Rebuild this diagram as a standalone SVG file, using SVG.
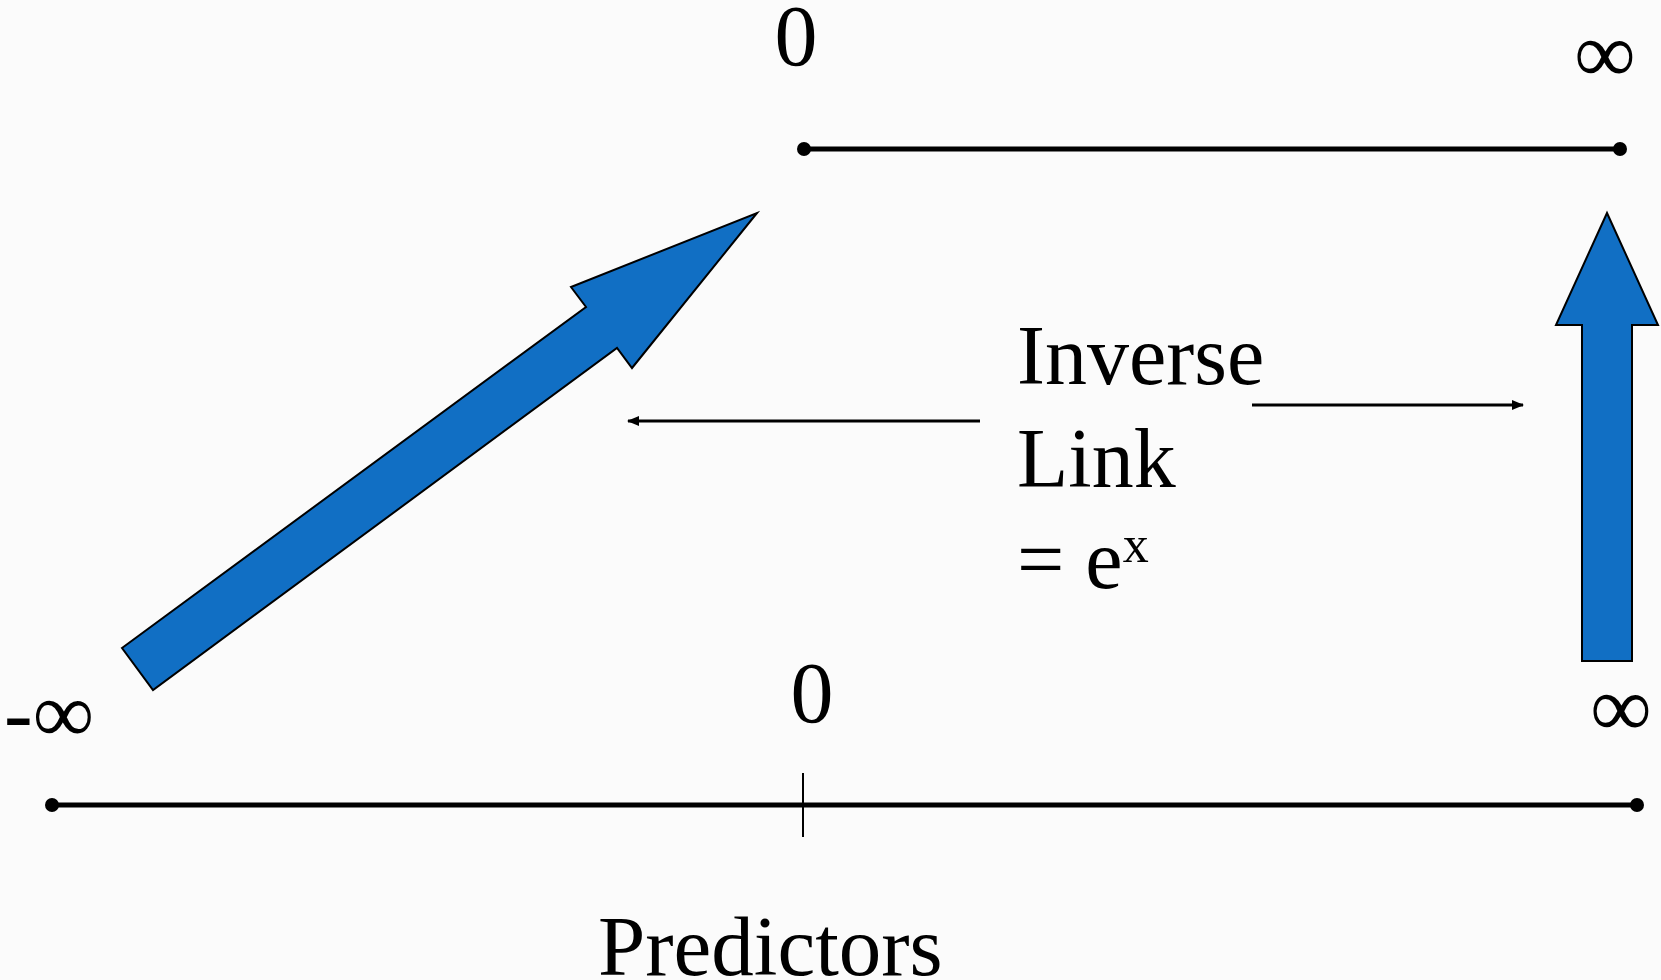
<svg xmlns="http://www.w3.org/2000/svg" width="1661" height="980" viewBox="0 0 1661 980">
<defs>
<style>
.t{font-family:"Liberation Serif","Times New Roman",serif;fill:#000}
.big{font-size:86px}
.axis{stroke:#000;stroke-width:5;fill:none}
.thin{stroke:#000;stroke-width:3;fill:none}
.blue{fill:#116FC4;stroke:#000;stroke-width:2;stroke-linejoin:miter}
</style>
<marker id="ah" viewBox="0 0 12 10" refX="11" refY="5" markerWidth="12" markerHeight="10" markerUnits="userSpaceOnUse" orient="auto">
<path d="M0,0 L12,5 L0,10 Z" fill="#000"/>
</marker>
</defs>
<rect width="1661" height="980" fill="#fbfbfb"/>
<g id="output-axis">
<line class="axis" x1="804" y1="149" x2="1620" y2="149"/>
<circle cx="804" cy="149" r="7"/>
<circle cx="1620" cy="149" r="7"/>
<text class="t big" x="796" y="65" text-anchor="middle">0</text>
<text class="t big" x="1605" y="82" text-anchor="middle">∞</text>
</g>
<g id="predictor-axis">
<line class="axis" x1="52" y1="805" x2="1637" y2="805"/>
<circle cx="52" cy="805" r="7"/>
<circle cx="1637" cy="805" r="7"/>
<line stroke="#000" stroke-width="2" x1="803" y1="773" x2="803" y2="837"/>
<text class="t big" x="812" y="722" text-anchor="middle">0</text>
<text class="t big" x="4" y="742">-∞</text>
<text class="t big" x="1621" y="736" text-anchor="middle">∞</text>
<text class="t" x="598" y="975" font-size="85">Predictors</text>
</g>
<g id="diag-arrow">
<polygon class="blue" points="122,648 586,307 571,287 757,213 632,368 617,348 153,690"/>
</g>
<g id="vert-arrow">
<polygon class="blue" points="1582,661 1582,325 1556,325 1607,213 1658,325 1632,325 1632,661"/>
</g>
<g id="label">
<text class="t" x="1017" y="384" font-size="84">Inverse</text>
<text class="t" x="1017" y="487" font-size="84">Link</text>
<text class="t" x="1017" y="588" font-size="84">= e<tspan font-size="52" dy="-26">x</tspan></text>
</g>
<g id="connectors">
<line class="thin" x1="980" y1="421" x2="628" y2="421" marker-end="url(#ah)"/>
<line class="thin" x1="1252" y1="405" x2="1523" y2="405" marker-end="url(#ah)"/>
</g>
</svg>
